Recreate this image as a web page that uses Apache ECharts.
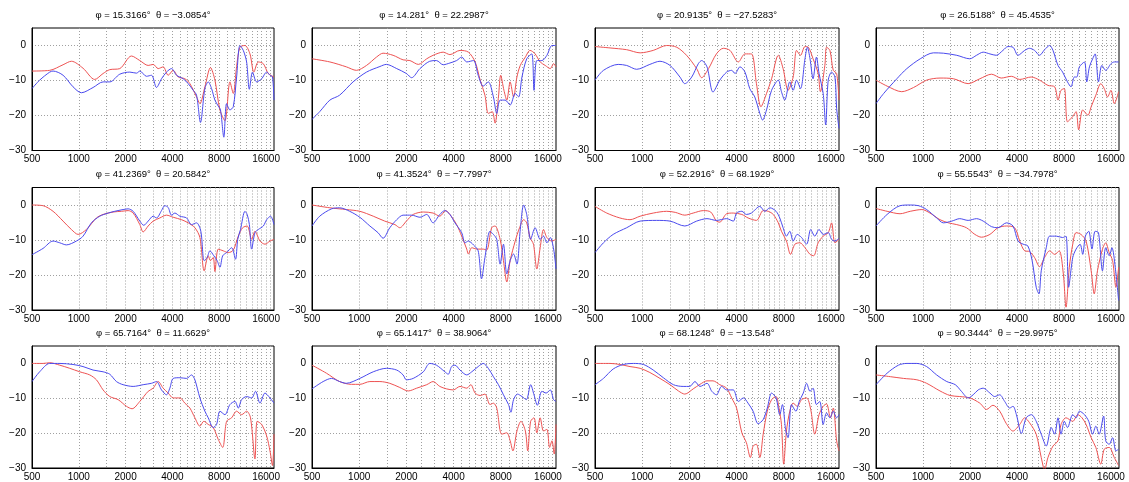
<!DOCTYPE html>
<html>
<head>
<meta charset="utf-8">
<script src="https://cdn.jsdelivr.net/npm/echarts@6/dist/echarts.min.js"></script>
<style>
html,body{margin:0;padding:0;background:#fff;}
#chart{width:1129px;height:482px;}
</style>
</head>
<body>
<div id="chart"></div>
<script>
// ---- data ----
const phiValues = ['15.3166','14.281','20.9135','26.5188','41.2369','41.3524','52.2916','55.5543','65.7164','65.1417','68.1248','90.3444'];
const thetaValues = ['−3.0854','22.2987','−27.5283','45.4535','20.5842','−7.7997','68.1929','−34.7978','11.6629','38.9064','−13.548','−29.9975'];
const xTickLabels = [500, 1000, 2000, 4000, 8000, 16000];
const yTickLabels = [-30, -20, -10, 0];
const xGridFreqs = [1000,1500,2000,2500,3000,3500,4000,4500,5000,5500,6000,6500,7000,7500,8000,9000,10000,11000,12000,13000,14000,15000,16000,17000];
const yGridValues = [-20, -10, 0];

const red1 = [[500,-7.3],[650,-7.1],[792,-5.5],[896,-4.5],[1065,-6.5],[1266,-9.7],[1433,-8.0],[1582,-6.9],[1834,-6.6],[2181,-3.0],[2468,-4.3],[2793,-5.7],[3007,-5.4],[3239,-6.6],[3488,-6.1],[3756,-8.5],[4045,-7.1],[4357,-9.0],[4809,-9.5],[5180,-10.9],[5718,-14.7],[6008,-16.6],[6470,-11.8],[7027,-6.3],[7504,-9.9],[8082,-18.4],[8703,-21.5],[9373,-10.4],[9848,-13.7],[10347,-6],[10871,-0.5],[11708,0],[12609,-2.4],[13358,-7.6],[14267,-4.7],[15365,-5.2],[16547,-8.0],[18000,-9.0]];
const blue1 = [[500,-12.3],[560,-9.9],[650,-7.6],[683,-7.3],[792,-8.5],[918,-11.8],[1039,-13.5],[1235,-12.0],[1433,-10.4],[1582,-10.4],[1834,-8.2],[2128,-7.6],[2349,-7.9],[2468,-7.3],[2725,-8.8],[2934,-8.5],[3160,-12.0],[3403,-9.5],[3664,-7.6],[3946,-6.6],[4250,-8.5],[4692,-9.5],[5053,-10.9],[5442,-12.8],[5718,-14.2],[6059,-22.0],[6470,-12.3],[6798,-10.4],[7142,-12.3],[7504,-15.6],[7884,-17.3],[8150,-18.4],[8562,-26.2],[8921,-16.6],[9373,-18.4],[9848,-17.5],[10347,-9.0],[10871,0],[11422,-1.4],[12001,-4.7],[12490,-12.5],[13100,-7.6],[13919,-10.4],[14990,-9.5],[16143,-7.6],[16961,-8.5],[17600,-9.0],[18000,-15.6]];

const red2 = [[500,-3.8],[650,-4.7],[828,-6.1],[960,-7.1],[1113,-5.7],[1290,-3.3],[1420,-2.2],[1645,-2.8],[1905,-4.1],[2105,-4.3],[2385,-5.4],[2695,-3.8],[2960,-2.8],[3433,-1.9],[3789,-2.6],[4395,-1.4],[4972,-1.9],[5489,-4.7],[5911,-9.9],[6340,-14.2],[6660,-19.4],[7060,-18.9],[7350,-22.2],[7730,-14.7],[7990,-8.5],[8380,-12.8],[8740,-15.6],[9180,-10.4],[9650,-14.7],[10140,-9.0],[10650,-5.7],[11480,-3.3],[12300,-1.4],[13248,-2.4],[14267,-4.7],[15365,-5.7],[16547,-6.6],[17386,-5.2],[18000,-6.1]];
const blue2 = [[500,-21.1],[560,-18.9],[650,-15.6],[750,-14.2],[914,-10.4],[1113,-7.6],[1356,-6.0],[1490,-5.4],[1735,-6.6],[2000,-8.0],[2160,-9.2],[2440,-6.6],[2818,-4.5],[3110,-4.3],[3433,-5.5],[3789,-5.0],[4183,-4.3],[4505,-3.3],[4851,-4.7],[5355,-4.3],[5740,-8.5],[6180,-11.6],[6660,-10.4],[7180,-14.7],[7540,-19.4],[7920,-15.6],[8520,-15.6],[9180,-17.0],[9890,-13.7],[10390,-14.7],[10920,-9.0],[11708,-3.8],[12609,-2.4],[13032,-12.8],[13579,-4.3],[14624,-4.3],[15749,-2.8],[16961,0],[18000,0]];

const red3 = [[500,-0.3],[624,-0.7],[796,-1.2],[970,-2.1],[1176,-1.4],[1433,0],[1662,-0.5],[1918,-2.8],[2225,-6.6],[2395,-9.2],[2650,-6.6],[2975,-2.4],[3290,-0.8],[3630,-1.4],[4105,-4.7],[4525,-2.4],[4972,-2.4],[5355,-10.9],[5718,-17.5],[6210,-13.7],[6688,-9.5],[7383,-2.8],[7920,-6.6],[8520,-12.8],[9180,-9.0],[9650,-1.4],[10230,-2.8],[10920,-0.3],[11480,-0.5],[12300,-3.8],[13248,-8.0],[13693,-13.2],[14624,-5.7],[14990,-0.5],[15749,-1.4],[16547,-7.1],[17386,-8.0],[18000,-15.6]];
const blue3 = [[500,-9.9],[566,-7.1],[703,-5.4],[796,-5.7],[922,-6.8],[1119,-5.4],[1298,-4.5],[1505,-5.7],[1740,-9.0],[1870,-10.9],[2070,-9.0],[2280,-5.2],[2395,-4.3],[2590,-6.1],[2830,-13.3],[3125,-9.9],[3455,-7.6],[3720,-7.1],[3910,-8.0],[4205,-6.1],[4525,-7.6],[4851,-12.3],[5224,-14.7],[5626,-19.4],[5861,-21.3],[6210,-18.4],[6688,-12.8],[7383,-9.9],[7730,-13.2],[8115,-15.6],[8740,-10.4],[9180,-12.8],[9650,-9.9],[10230,-12.3],[10920,-3.8],[11310,-0.5],[11760,-3.8],[12300,-9.5],[12925,-3.3],[13430,-8.0],[14267,-13.7],[14800,-22.7],[15365,-9.9],[16143,-7.6],[16961,-9.0],[17386,-18.0],[18000,-23.7]];

const red4 = [[500,-9.9],[589,-11.6],[731,-13.2],[870,-12.0],[1055,-9.9],[1285,-9.3],[1567,-9.5],[1945,-10.9],[2313,-9.5],[2749,-8.2],[3170,-9.3],[3680,-8.8],[4165,-9.7],[4930,-9.0],[5578,-9.9],[6312,-11.4],[6968,-11.8],[7321,-15.6],[7655,-12.8],[8040,-12.3],[8420,-21.8],[9100,-20.3],[9560,-18.9],[9931,-24.1],[10540,-18.4],[11370,-19.9],[11940,-17.5],[12790,-14.2],[13760,-10.9],[14480,-12.3],[15210,-14.7],[15990,-12.8],[16800,-16.6],[17900,-13.2]];
const blue4 = [[500,-16.6],[560,-13.7],[680,-9.5],[788,-6.6],[960,-3.8],[1165,-2.1],[1350,-2.2],[1645,-2.8],[1994,-3.8],[2201,-2.8],[2430,-1.9],[2682,-2.4],[2945,-2.8],[3250,-1.4],[3500,-0.3],[3770,-0.5],[4060,-2.8],[4480,-1.4],[4809,-0.8],[5180,-1.4],[5578,-2.8],[6008,-1.2],[6470,0],[6798,-1.4],[7321,-5.7],[7840,-7.6],[8420,-10.4],[8870,-11.8],[9320,-9.0],[9650,-9.0],[10040,-6.1],[10820,-4.7],[11190,-10.4],[11640,-6.1],[12200,-3.8],[12660,-2.4],[13300,-10.4],[13980,-5.7],[14800,-7.1],[15990,-5.2],[16800,-4.7],[17900,-4.7]];

const red5 = [[500,0],[589,-0.2],[683,-1.8],[792,-4.6],[896,-7.0],[990,-8.4],[1119,-7.0],[1298,-3.7],[1433,-2.7],[1662,-2.0],[1880,-1.8],[2076,-1.6],[2236,-2.3],[2468,-5.6],[2593,-7.7],[2793,-6.0],[3007,-4.6],[3320,-3.7],[3664,-2.9],[4045,-3.5],[4577,-4.2],[5053,-5.1],[5578,-6.5],[6008,-9.3],[6400,-18.8],[6798,-14.5],[7027,-15.9],[7321,-15.0],[7504,-19.0],[7884,-12.6],[8491,-13.1],[9144,-13.6],[9848,-12.9],[10606,-8.9],[11310,-6.5],[12101,-6.0],[12925,-9.8],[13579,-7.5],[14624,-10.3],[15749,-11.2],[16961,-10.3],[18000,-9.8]];
const blue5 = [[500,-14.2],[589,-12.4],[683,-10.3],[754,-10.8],[832,-11.4],[965,-10.3],[1065,-8.9],[1205,-5.1],[1364,-3.2],[1545,-2.3],[1703,-1.8],[1927,-1.3],[2076,-1.1],[2236,-1.8],[2468,-4.6],[2617,-5.8],[2793,-4.6],[3007,-3.2],[3160,-3.7],[3403,-1.6],[3575,-0.2],[3756,-0.7],[3946,-2.9],[4147,-2.3],[4466,-3.2],[4930,-3.7],[5309,-5.6],[5718,-5.1],[6090,-7.5],[6400,-15.9],[6688,-15.0],[6968,-13.1],[7383,-14.5],[7757,-15.9],[8082,-17.8],[8420,-14.5],[8921,-13.6],[9608,-12.2],[10179,-15.5],[10520,-9.8],[10962,-7.0],[11708,-1.8],[12101,-2.7],[12500,-5.6],[12925,-12.6],[13579,-7.9],[14267,-7.0],[15365,-6.0],[16143,-4.2],[17103,-3.2],[18000,-5.6]];

const red6 = [[500,0],[650,-0.8],[828,-1.3],[1009,-1.8],[1229,-3.2],[1455,-4.6],[1690,-5.6],[1815,-6.5],[2000,-4.6],[2210,-2.7],[2565,-2.0],[2960,-2.3],[3268,-3.2],[3560,-1.6],[3789,-2.7],[4183,-5.6],[4505,-8.9],[4851,-12.6],[4972,-14.0],[5224,-12.2],[5626,-12.6],[6180,-12.6],[6500,-12.9],[6990,-6.5],[7350,-6.0],[7920,-9.8],[8320,-15.9],[8740,-22.0],[9180,-15.9],[9890,-10.3],[10540,-6.5],[11190,-4.2],[11708,-5.1],[12300,-9.3],[12925,-11.2],[13579,-18.3],[14267,-12.2],[14990,-7.0],[15749,-9.3],[16961,-10.3],[18000,-9.8]];
const blue6 = [[500,-6.0],[560,-3.2],[666,-1.1],[750,-0.8],[870,-1.8],[1009,-3.5],[1170,-6.0],[1318,-7.9],[1420,-9.5],[1567,-6.5],[1735,-4.2],[1905,-2.9],[2160,-2.9],[2440,-3.5],[2695,-2.7],[2960,-5.1],[3268,-2.7],[3519,-1.6],[3789,-2.7],[4081,-5.1],[4505,-7.9],[4733,-10.8],[4972,-10.3],[5355,-11.4],[5740,-13.1],[6030,-21.1],[6340,-15.0],[6830,-7.5],[7180,-8.4],[7540,-9.8],[7920,-16.9],[8320,-11.2],[8740,-19.7],[9180,-15.9],[9650,-14.0],[10140,-16.9],[10650,-7.0],[11190,0],[11708,-2.7],[12404,-9.8],[13248,-6.5],[14267,-9.8],[14990,-8.9],[15749,-10.8],[16547,-9.3],[17386,-12.6],[18000,-18.3]];

const red7 = [[500,-0.4],[594,-2.3],[720,-3.7],[836,-4.2],[970,-3.2],[1176,-2.3],[1433,-1.8],[1625,-2.1],[1870,-2.9],[2115,-2.3],[2455,-1.6],[2735,-2.0],[2975,-4.6],[3125,-4.9],[3455,-2.5],[3810,-2.3],[4320,-2.7],[4733,-3.7],[5355,-4.4],[5911,-1.6],[6366,-1.8],[6855,-2.7],[7383,-5.1],[7730,-7.5],[8320,-10.3],[8830,-14.1],[9420,-11.2],[10140,-10.8],[10920,-12.2],[11760,-14.1],[12404,-14.5],[13248,-10.8],[14267,-8.9],[15365,-7.9],[16143,-5.1],[16961,-10.8],[18000,-9.8]];
const blue7 = [[500,-13.6],[566,-10.8],[653,-8.4],[796,-6.5],[970,-4.6],[1235,-4.4],[1505,-4.6],[1870,-6.0],[2225,-4.6],[2590,-3.9],[2975,-4.4],[3455,-3.9],[3810,-4.6],[4000,-2.3],[4320,-1.8],[4617,-2.7],[4972,-2.3],[5626,-0.4],[6059,-1.8],[6525,-0.8],[7142,-1.8],[7540,-3.7],[7920,-6.5],[8320,-8.9],[8740,-7.5],[9180,-10.3],[9750,-8.4],[10390,-9.3],[11190,-11.2],[11880,-7.0],[12609,-8.9],[13430,-7.0],[14267,-8.4],[15365,-7.9],[16143,-9.8],[16961,-10.3],[18000,-9.5]];

const red8 = [[500,-1.0],[589,-1.8],[713,-2.5],[828,-1.8],[984,-1.3],[1108,-2.3],[1285,-4.2],[1455,-5.1],[1645,-5.6],[1898,-6.5],[2148,-8.4],[2371,-9.2],[2682,-8.4],[3020,-6.5],[3420,-6.0],[3865,-6.5],[4165,-10.3],[4480,-13.1],[4809,-13.3],[5180,-15.0],[5578,-17.6],[6008,-15.0],[6470,-13.1],[6968,-14.1],[7455,-13.1],[7920,-19.7],[8240,-29.2],[8650,-17.8],[9100,-11.2],[9560,-7.9],[10270,-8.4],[11080,-10.3],[11940,-18.8],[12490,-25.4],[13100,-18.8],[14110,-12.6],[14800,-10.8],[15570,-13.6],[16380,-15.9],[17210,-23.5],[17900,-17.8]];
const blue8 = [[500,-6.0],[589,-2.7],[713,-0.2],[828,0],[936,-0.2],[1055,-1.3],[1223,-3.7],[1350,-5.1],[1530,-4.6],[1719,-3.9],[1945,-4.4],[2201,-3.9],[2430,-4.6],[2749,-6.2],[3020,-6.5],[3420,-5.1],[3770,-6.0],[4060,-10.3],[4380,-11.2],[4692,-11.7],[5000,-15.9],[5309,-23.5],[5530,-25.4],[5718,-18.8],[6158,-12.2],[6470,-8.9],[7142,-8.9],[7840,-9.3],[8240,-8.9],[8562,-23.5],[9100,-15.0],[9560,-12.6],[10140,-11.2],[10540,-14.1],[10962,-8.9],[11518,-7.5],[12080,-12.6],[12660,-7.5],[13300,-7.9],[14110,-18.8],[14800,-12.2],[15570,-14.5],[16220,-12.2],[17030,-17.8],[17900,-27.3]];

const red9 = [[500,0],[589,0],[650,0.2],[754,-0.5],[874,-1.4],[1014,-2.4],[1176,-3.3],[1298,-4.7],[1433,-7.6],[1582,-9.5],[1790,-10.4],[2025,-12.3],[2201,-13.0],[2468,-10.9],[2793,-8.0],[3007,-7.1],[3239,-5.2],[3488,-7.1],[3756,-8.5],[4045,-9.9],[4466,-9.9],[4809,-11.4],[5180,-12.8],[5578,-15.6],[6008,-18.0],[6366,-16.6],[6798,-17.5],[7321,-18.4],[7884,-21.8],[8420,-24.1],[8921,-16.6],[9608,-15.6],[10347,-13.7],[11143,-14.7],[12001,-13.7],[12714,-15.6],[13579,-27.4],[14035,-16.6],[14990,-17.5],[16143,-20.8],[16961,-25.1],[17600,-29.3],[18000,-20.3]];
const blue9 = [[500,-5.2],[560,-2.4],[650,0],[754,0],[918,-0.3],[1065,-0.9],[1235,-1.9],[1433,-2.4],[1582,-3.1],[1746,-5.2],[1927,-6.1],[2236,-6.6],[2593,-6.1],[2934,-5.7],[3160,-5.2],[3403,-7.6],[3664,-9.0],[3850,-7.1],[4045,-4.3],[4466,-4.1],[4930,-4.3],[5309,-3.3],[5578,-4.7],[6008,-9.9],[6470,-13.7],[6798,-15.6],[7321,-18.4],[7692,-17.5],[8082,-13.7],[8703,-14.7],[9373,-11.8],[10094,-10.9],[10606,-12.8],[11143,-10.4],[12001,-9.5],[12925,-9.9],[13693,-8.0],[14624,-11.4],[15749,-8.5],[16961,-9.9],[18000,-11.4]];

const red10 = [[500,-0.5],[618,-2.8],[750,-5.2],[892,-6.0],[1009,-6.0],[1170,-5.2],[1356,-5.2],[1567,-5.7],[1815,-6.9],[2055,-7.9],[2325,-7.1],[2695,-6.1],[2960,-5.2],[3268,-6.6],[3607,-7.3],[3981,-7.6],[4395,-6.6],[4851,-7.1],[5150,-6.1],[5489,-8.5],[5911,-9.2],[6340,-8.8],[6830,-11.8],[7180,-11.4],[7540,-12.8],[8115,-20.3],[8740,-19.9],[9180,-22.2],[9560,-25.1],[10140,-19.4],[10760,-16.6],[11480,-19.4],[11880,-25.1],[12404,-16.6],[13032,-15.6],[13579,-19.9],[14267,-15.6],[14990,-19.4],[15749,-18.9],[16380,-24.1],[16961,-22.2],[17531,-26.0],[18000,-17.5]];
const blue10 = [[500,-7.3],[589,-5.2],[666,-4.3],[750,-5.2],[828,-5.7],[1009,-4.3],[1229,-2.4],[1490,-1.4],[1735,-1.9],[1905,-3.3],[2000,-4.7],[2210,-4.3],[2565,-2.4],[2818,0],[3110,-0.5],[3519,-2.4],[3697,-3.1],[3884,-0.9],[4081,-0.5],[4395,-1.9],[4851,-3.3],[5224,-2.4],[5740,-0.9],[6180,0],[6660,-1.4],[7180,-3.8],[7730,-6.1],[8320,-9.0],[8960,-11.8],[9280,-14.0],[9650,-10.4],[10230,-8.8],[10920,-9.5],[11640,-10.4],[12404,-6.1],[13032,-9.0],[13693,-12.0],[14624,-8.0],[15570,-8.5],[16547,-7.6],[17386,-10.4],[18000,-10.9]];

const red11 = [[500,0],[624,0],[720,-0.3],[836,-0.9],[970,-1.4],[1119,-2.6],[1298,-4.3],[1505,-6.1],[1703,-7.9],[1870,-8.8],[2115,-7.3],[2337,-6.0],[2590,-5.0],[2830,-5.0],[3125,-6.1],[3455,-7.1],[3720,-9.9],[4000,-12.8],[4320,-19.9],[4617,-22.7],[4900,-27.0],[5097,-23.7],[5355,-23.2],[5626,-27.0],[5911,-20.3],[6280,-13.7],[6688,-10.4],[7142,-9.5],[7455,-12.8],[7730,-17.5],[7990,-28.9],[8320,-19.4],[8740,-13.7],[9180,-11.4],[9750,-12.3],[10390,-10.4],[11190,-9.9],[11880,-13.2],[12609,-20.3],[13430,-14.7],[14267,-12.3],[14990,-11.6],[15881,-15.6],[16547,-12.8],[17386,-22.2],[18000,-25.1]];
const blue11 = [[500,-6.1],[566,-4.3],[653,-1.6],[757,-0.3],[878,0],[1019,-0.3],[1176,-1.9],[1364,-4.1],[1582,-6.1],[1825,-6.6],[2010,-6.6],[2170,-5.2],[2337,-6.6],[2590,-5.7],[2780,-8.0],[2975,-9.0],[3210,-6.6],[3455,-7.6],[3810,-7.6],[4105,-10.9],[4420,-9.9],[4733,-11.4],[5097,-13.7],[5489,-17.3],[5911,-16.1],[6280,-12.8],[6688,-8.5],[7142,-9.9],[7540,-14.7],[7840,-11.8],[8240,-19.4],[8520,-21.3],[8960,-11.8],[9560,-13.7],[10040,-10.9],[10650,-8.5],[11190,-5.7],[11760,-8.0],[12300,-7.1],[12925,-11.8],[13579,-10.9],[14267,-17.5],[14990,-14.2],[15749,-15.6],[16547,-13.7],[17386,-15.6],[18000,-14.7]];

const red12 = [[500,-3.3],[618,-3.8],[750,-4.3],[914,-4.7],[1055,-5.7],[1285,-7.9],[1490,-9.2],[1719,-9.5],[1994,-9.9],[2313,-11.4],[2553,-13.2],[2805,-12.0],[3100,-13.7],[3420,-17.3],[3770,-19.4],[4165,-17.5],[4480,-15.6],[4809,-17.0],[5309,-20.3],[5718,-27.0],[6008,-30.5],[6312,-27.0],[6798,-23.7],[7321,-22.2],[7655,-17.5],[8240,-15.6],[9100,-16.6],[9800,-14.7],[10433,-15.6],[11080,-17.5],[11940,-21.3],[12790,-24.1],[13760,-28.9],[14480,-24.6],[15570,-24.1],[16800,-27.0],[17900,-29.3]];
const blue12 = [[500,-6.1],[589,-2.8],[696,-0.5],[788,0],[914,0],[1055,-0.9],[1223,-3.3],[1420,-5.2],[1610,-6.1],[1762,-8.0],[1945,-9.9],[2095,-9.0],[2256,-7.6],[2430,-7.1],[2682,-8.5],[2875,-9.5],[3100,-9.0],[3335,-10.9],[3590,-12.8],[3770,-12.3],[3965,-14.7],[4270,-20.1],[4577,-15.6],[4950,-14.7],[5309,-16.6],[5718,-20.3],[6158,-23.7],[6632,-18.4],[6968,-20.3],[7321,-15.6],[7655,-20.3],[8040,-16.6],[8420,-18.4],[9100,-14.7],[9560,-15.6],[10040,-13.7],[10820,-14.7],[11518,-16.6],[12200,-20.3],[12790,-18.0],[13430,-20.3],[14340,-15.1],[14800,-22.2],[15570,-23.2],[16380,-21.3],[17210,-25.1],[17900,-24.6]];

const redSeries = [red1,red2,red3,red4,red5,red6,red7,red8,red9,red10,red11,red12];
const blueSeries = [blue1,blue2,blue3,blue4,blue5,blue6,blue7,blue8,blue9,blue10,blue11,blue12];

// ---- layout ----
const colLeft = [32, 312, 595, 876];
const colWidth = [242, 244, 244, 243];
const rowTop = [28, 187.5, 346];
const rowHeight = 122.5;
const FONT = '"Liberation Sans", Arial, Helvetica, sans-serif';
const RED = '#ee5252';
const BLUE = '#4a4aee';

const grids = [], xAxes = [], yAxes = [], series = [], titles = [];
for (let i = 0; i < 12; i++) {
  const r = Math.floor(i / 4), c = i % 4;
  grids.push({left: colLeft[c], top: rowTop[r], width: colWidth[c], height: rowHeight,
    show: true, borderColor: '#000', borderWidth: 1, backgroundColor: '#fff', containLabel: false});
  xAxes.push({type: 'log', logBase: 10, gridIndex: i, min: 500, max: 18000,
    axisLine: {show: true, onZero: false, lineStyle: {color: '#000', width: 1}},
    axisTick: {show: false, customValues: xGridFreqs},
    axisLabel: {customValues: xTickLabels, formatter: v => String(v), color: '#000', fontSize: 10, fontFamily: FONT, margin: 4, hideOverlap: false},
    splitLine: {show: true, lineStyle: {color: '#a0a0a0', width: 1, type: [1, 2]}},
    minorTick: {show: false}, minorSplitLine: {show: false}});
  yAxes.push({type: 'value', gridIndex: i, min: -30, max: 5,
    axisLine: {show: true, onZero: false, lineStyle: {color: '#000', width: 1}},
    axisTick: {show: false, customValues: yGridValues},
    axisLabel: {customValues: yTickLabels, formatter: v => String(v).replace('-', '\u2212'), color: '#000', fontSize: 10, fontFamily: FONT, margin: 6},
    splitLine: {show: true, lineStyle: {color: '#a0a0a0', width: 1, type: [1, 2]}}});
  titles.push({text: 'φ = ' + phiValues[i] + '°  θ = ' + thetaValues[i] + '°',
    left: colLeft[c] + colWidth[c] / 2, top: rowTop[r] - 18, textAlign: 'center', padding: 0,
    textStyle: {fontSize: 9.5, fontWeight: 'normal', color: '#000', fontFamily: FONT}});
  series.push({type: 'line', xAxisIndex: i, yAxisIndex: i, data: redSeries[i], symbol: 'none',
    smooth: 0.3, clip: true, silent: true, lineStyle: {color: RED, width: 1}});
  series.push({type: 'line', xAxisIndex: i, yAxisIndex: i, data: blueSeries[i], symbol: 'none',
    smooth: 0.3, clip: true, silent: true, lineStyle: {color: BLUE, width: 1}});
}

const chart = echarts.init(document.getElementById('chart'), null, {renderer: 'canvas'});
chart.setOption({
  animation: false,
  backgroundColor: '#fff',
  title: titles,
  grid: grids,
  xAxis: xAxes,
  yAxis: yAxes,
  series: series
});
</script>
</body>
</html>
